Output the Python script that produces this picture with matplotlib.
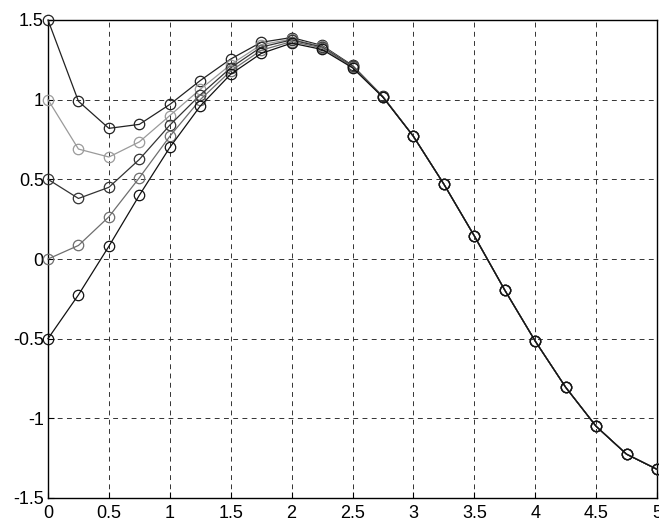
import matplotlib
matplotlib.use("Agg")
import matplotlib.pyplot as plt

x = [0, 0.25, 0.5, 0.75, 1.0, 1.25, 1.5, 1.75, 2.0, 2.25, 2.5, 2.75,
     3.0, 3.25, 3.5, 3.75, 4.0, 4.25, 4.5, 4.75, 5.0]

tail = [0.77, 0.47, 0.145, -0.195, -0.515, -0.805, -1.05, -1.225, -1.32]

y1 = [1.5, 0.99, 0.82, 0.845, 0.97, 1.12, 1.255, 1.36, 1.39, 1.34, 1.215, 1.02] + tail
y2 = [1.0, 0.69, 0.64, 0.735, 0.90, 1.065, 1.22, 1.345, 1.38, 1.335, 1.21, 1.018] + tail
y3 = [0.5, 0.38, 0.45, 0.625, 0.84, 1.03, 1.20, 1.33, 1.375, 1.33, 1.21, 1.017] + tail
y4 = [0.0, 0.085, 0.265, 0.51, 0.77, 1.0, 1.18, 1.31, 1.365, 1.325, 1.205, 1.016] + tail
y5 = [-0.5, -0.225, 0.08, 0.40, 0.70, 0.96, 1.16, 1.29, 1.355, 1.315, 1.20, 1.015] + tail

series = [y1, y2, y3, y4, y5]
colors = ["#222222", "#9a9a9a", "#333333", "#6e6e6e", "#111111"]

plt.rcParams["font.family"] = ["Liberation Sans", "DejaVu Sans"]

fig = plt.figure(figsize=(6.59, 5.2), dpi=100)
ax = fig.add_axes([48 / 659, 22 / 520, 609 / 659, 478 / 520])

for ys, c in zip(series, colors):
    ax.plot(x, ys, color=c, lw=0.9, marker="o", ms=7.5, mfc="none",
            mec=c, mew=0.9, clip_on=False, zorder=3)

ax.set_xlim(0, 5)
ax.set_ylim(-1.5, 1.5)
ax.set_xticks([0, 0.5, 1, 1.5, 2, 2.5, 3, 3.5, 4, 4.5, 5])
ax.set_xticklabels(["0", "0.5", "1", "1.5", "2", "2.5", "3", "3.5", "4", "4.5", "5"])
ax.set_yticks([-1.5, -1, -0.5, 0, 0.5, 1, 1.5])
ax.set_yticklabels(["-1.5", "-1", "-0.5", "0", "0.5", "1", "1.5"])
ax.tick_params(direction="in", length=4, width=0.8, labelsize=13)
ax.tick_params(axis="x", pad=5)
ax.tick_params(axis="y", pad=3)
ax.grid(True, color="#333333", lw=0.7, ls=(0, (5, 4.5)))
for s in ax.spines.values():
    s.set_linewidth(1.0)
    s.set_color("black")

fig.savefig("out.png", dpi=100)
